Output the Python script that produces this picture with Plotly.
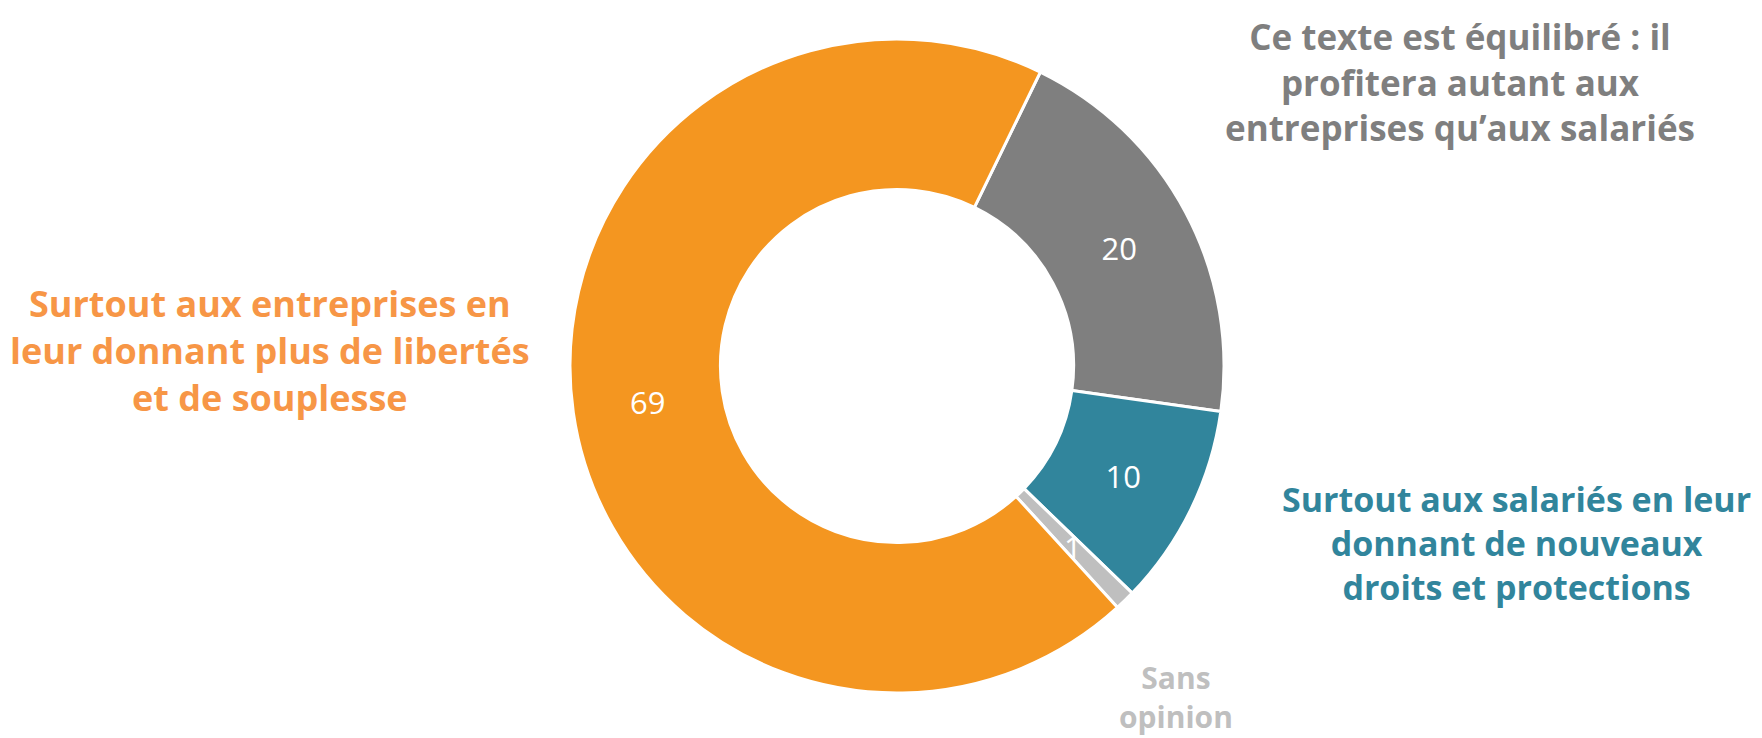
import math
import plotly.graph_objects as go

categories = [
    "Ce texte est équilibré : il profitera autant aux entreprises qu’aux salariés",
    "Surtout aux salariés en leur donnant de nouveaux droits et protections",
    "Sans opinion",
    "Surtout aux entreprises en leur donnant plus de libertés et de souplesse",
]
values = [20, 10, 1, 69]
slice_colors = ["#7F7F7F", "#31859C", "#BFBFBF", "#F49620"]

label_texts = [
    "Ce texte est équilibré : il<br>profitera autant aux<br>entreprises qu’aux salariés",
    "Surtout aux salariés en leur<br>donnant de nouveaux<br>droits et protections",
    "Sans<br>opinion",
    "Surtout aux entreprises en<br>leur donnant plus de libertés<br>et de souplesse",
]
label_colors = ["#7F7F7F", "#31859C", "#BFBFBF", "#F79646"]

W, H = 1762, 738
cx, cy, R = 889, 358, 327
HOLE = 0.54
ROT = 26
small = [v < 5 for v in values]

fig = go.Figure(go.Pie(
    labels=categories,
    values=values,
    sort=False,
    direction="clockwise",
    rotation=ROT,
    hole=HOLE,
    marker=dict(colors=slice_colors, line=dict(color="white", width=3)),
    texttemplate=["" if s else "%{value}" for s in small],
    textposition="inside",
    insidetextorientation="horizontal",
    textfont=dict(family="Open Sans", size=31, color="white"),
    domain=dict(x=[(cx - R) / W, (cx + R) / W], y=[1 - (cy + R) / H, 1 - (cy - R) / H]),
    showlegend=False,
))

# value labels for thin slices, placed at the middle of their ring segment
total = sum(values)
cum = 0
for v, s in zip(values, small):
    if s:
        ang = math.radians(ROT + (cum + v / 2) / total * 360)
        r = R * (1 + HOLE) / 2
        fig.add_annotation(
            x=(cx + r * math.sin(ang)) / W, y=1 - (cy - r * math.cos(ang)) / H,
            xref="paper", yref="paper", text=str(v), showarrow=False,
            xanchor="center", yanchor="middle",
            font=dict(family="Open Sans", size=31, color="white"),
        )
    cum += v

label_pos = [(1452, 74, 35), (1508, 535, 34), (1168, 689, 30), (262, 343, 36)]
for txt, col, (x, y, s) in zip(label_texts, label_colors, label_pos):
    fig.add_annotation(
        x=x / W, y=1 - y / H, xref="paper", yref="paper",
        text=txt, showarrow=False, align="center",
        xanchor="center", yanchor="middle",
        font=dict(family="Open Sans", size=s, color=col, weight="bold"),
    )

fig.update_layout(
    width=W, height=H,
    margin=dict(l=0, r=0, t=0, b=0),
    paper_bgcolor="white", plot_bgcolor="white",
    uniformtext=dict(minsize=31, mode="show"),
)

fig.write_html("out.html")
